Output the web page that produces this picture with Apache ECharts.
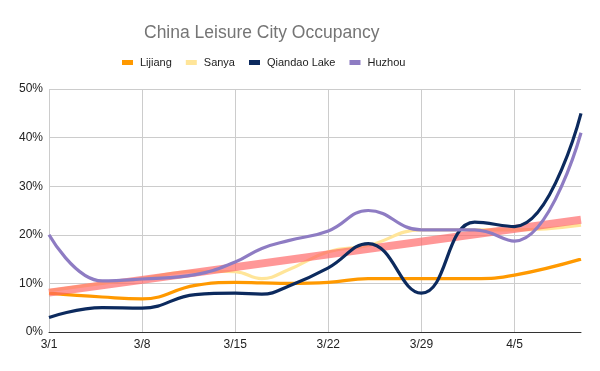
<!DOCTYPE html>
<html>
<head>
<meta charset="utf-8">
<script src="https://cdn.jsdelivr.net/npm/echarts@6/dist/echarts.min.js"></script>
<style>html,body{margin:0;padding:0;background:#fff;}#c{width:600px;height:371px;}</style>
</head>
<body>
<div id="c"></div>
<script>
// Day offsets from 3/1
var days = [0, 4, 7, 11, 14, 16, 18, 21, 24, 28, 32, 35, 40];
var tickLabels = ['3/1', '3/8', '3/15', '3/22', '3/29', '4/5'];
var lijiang = [8, 7.2, 6.8, 9.6, 10.2, 10.1, 10, 10.2, 11, 11, 11, 11.7, 15];
var sanya = [8.5, 10, 11, 12.5, 12.4, 11, 12.8, 16.5, 17.8, 21, 21, 21, 22];
var qiandao = [3, 5, 4.9, 7.7, 8, 7.8, 9.4, 13.2, 18.2, 8, 22.6, 21.7, 45];
var huzhou = [20, 10.5, 10.9, 11.8, 14.4, 17.2, 18.8, 20.8, 25, 21, 21, 18.7, 41];
var trendDays = [0, 40];
var trendVals = [8.1, 23.1];

function pairs(xs, ys) { return xs.map(function (x, i) { return [x, ys[i]]; }); }

var chart = echarts.init(document.getElementById('c'));
var font = 'Liberation Sans, Arial, sans-serif';
function line(name, vals, color) {
  return {
    name: name, type: 'line', data: pairs(days, vals), smooth: 0.45,
    showSymbol: false, symbol: 'none',
    lineStyle: { color: color, width: 3.2 }, itemStyle: { color: color }
  };
}
chart.setOption({
  animation: false,
  title: {
    text: 'China Leisure City Occupancy', left: 139, top: 19,
    textStyle: { fontFamily: font, fontSize: 17.5, fontWeight: 'normal', color: '#757575' }
  },
  legend: {
    data: ['Lijiang', 'Sanya', 'Qiandao Lake', 'Huzhou'],
    top: 52, left: 117, itemWidth: 11, itemHeight: 5, itemGap: 14,
    icon: 'rect',
    textStyle: { fontFamily: font, fontSize: 11, color: '#222', padding: [0, 0, 0, 2] }
  },
  grid: { left: 49, right: 19, top: 89, bottom: 39, containLabel: false },
  xAxis: {
    type: 'value', min: 0, max: 40, interval: 7,
    axisLine: { show: true, lineStyle: { color: '#333', width: 1 } },
    axisTick: { show: false },
    axisLabel: {
      showMaxLabel: false, fontFamily: font, fontSize: 12, color: '#222', margin: 7,
      formatter: function (v) { return tickLabels[Math.round(v / 7)] || ''; }
    },
    splitLine: { show: true, showMaxLine: false, lineStyle: { color: '#cccccc' } }
  },
  yAxis: {
    type: 'value', min: 0, max: 50, interval: 10,
    axisLine: { show: false }, axisTick: { show: false },
    axisLabel: { fontFamily: font, fontSize: 12, color: '#222', margin: 6, formatter: '{value}%' },
    splitLine: { lineStyle: { color: '#cccccc' } }
  },
  series: [
    line('Lijiang', lijiang, '#ff9900'),
    line('Sanya', sanya, '#ffe599'),
    {
      name: 'Trend', type: 'line', data: pairs(trendDays, trendVals), symbol: 'none',
      lineStyle: { color: '#ff6666', width: 8, opacity: 0.68 }
    },
    line('Qiandao Lake', qiandao, '#0c2a5e'),
    line('Huzhou', huzhou, '#8e7cc3')
  ]
});
</script>
</body>
</html>
